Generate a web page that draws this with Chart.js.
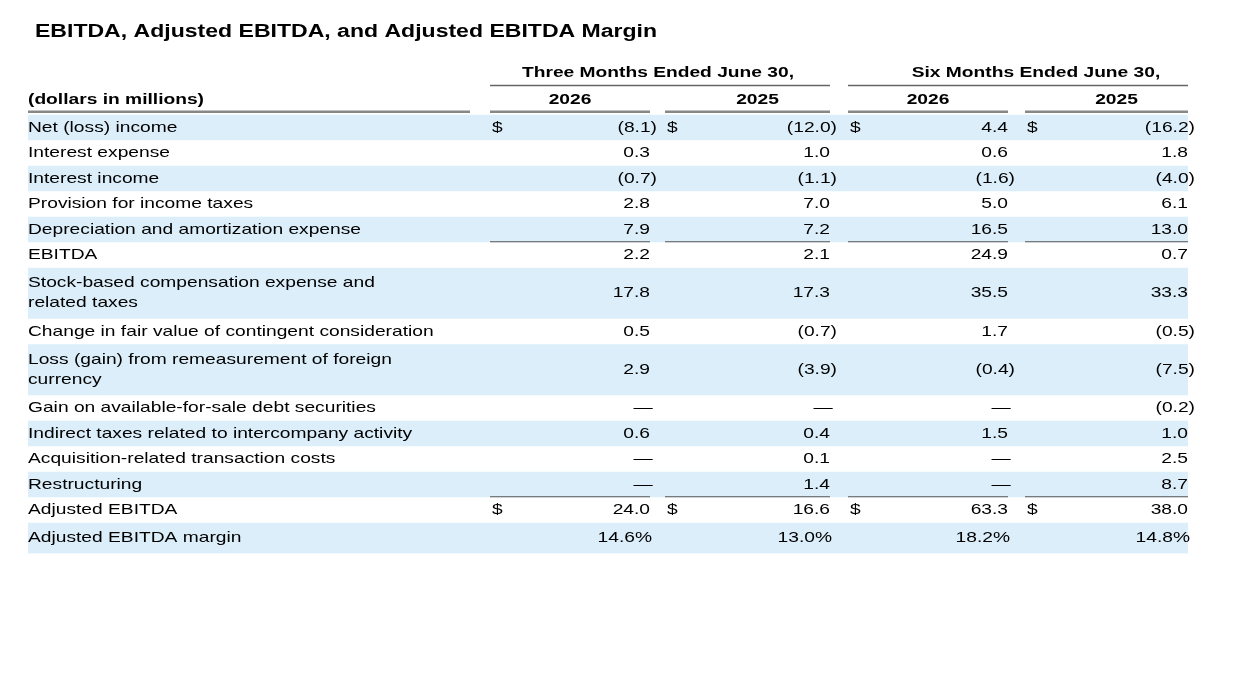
<!DOCTYPE html>
<html>
<head>
<meta charset="utf-8">
<script src="https://cdn.jsdelivr.net/npm/chart.js@4.4.1/dist/chart.umd.min.js"></script>
<style>
  html, body { margin: 0; padding: 0; background: #fff; }
  #wrap { position: relative; width: 1238px; height: 682px; }
</style>
</head>
<body>
<div id="wrap"><canvas id="tbl"></canvas></div>
<script>
// ---- table content ----
const title = 'EBITDA, Adjusted EBITDA, and Adjusted EBITDA Margin';
const groupHeaders = ['Three Months Ended June 30,', 'Six Months Ended June 30,'];
const yearHeaders = ['2026', '2025', '2026', '2025'];
const unitLabel = '(dollars in millions)';

const rowLabels = [
  ['Net (loss) income'],
  ['Interest expense'],
  ['Interest income'],
  ['Provision for income taxes'],
  ['Depreciation and amortization expense'],
  ['EBITDA'],
  ['Stock-based compensation expense and', 'related taxes'],
  ['Change in fair value of contingent consideration'],
  ['Loss (gain) from remeasurement of foreign', 'currency'],
  ['Gain on available-for-sale debt securities'],
  ['Indirect taxes related to intercompany activity'],
  ['Acquisition-related transaction costs'],
  ['Restructuring'],
  ['Adjusted EBITDA'],
  ['Adjusted EBITDA margin']
];
const q2026 = ['(8.1)', '0.3', '(0.7)', '2.8', '7.9', '2.2', '17.8', '0.5', '2.9', '—', '0.6', '—', '—', '24.0', '14.6%'];
const q2025 = ['(12.0)', '1.0', '(1.1)', '7.0', '7.2', '2.1', '17.3', '(0.7)', '(3.9)', '—', '0.4', '0.1', '1.4', '16.6', '13.0%'];
const s2026 = ['4.4', '0.6', '(1.6)', '5.0', '16.5', '24.9', '35.5', '1.7', '(0.4)', '—', '1.5', '—', '—', '63.3', '18.2%'];
const s2025 = ['(16.2)', '1.8', '(4.0)', '6.1', '13.0', '0.7', '33.3', '(0.5)', '(7.5)', '(0.2)', '1.0', '2.5', '8.7', '38.0', '14.8%'];
const dollarRows = [0, 13];
const columns = [q2026, q2025, s2026, s2025];

// ---- layout ----
const FONT = '"Liberation Sans", Arial, sans-serif';
const BLUE = '#dbeef9';
const STRETCH = 1.28; // reference text is horizontally stretched
const colSpans = [[490, 650], [665, 830], [848, 1008], [1025, 1188]];
const LEFT = 28, RIGHT = 1188;
const ROW_H = 25.5, TOP = 4.5; // in row units (y scale)

function txt(ctx, t, x, y, align) {
  ctx.save();
  ctx.translate(x, y);
  ctx.scale(STRETCH, 1);
  ctx.textAlign = align;
  ctx.fillText(t, 0, 0);
  ctx.restore();
}

const tablePlugin = {
  id: 'table',
  afterDraw(chart) {
    const ctx = chart.ctx;
    const x = chart.scales.x, y = chart.scales.y;
    const px = v => x.getPixelForValue(v);
    const py = v => y.getPixelForValue(v);
    ctx.save();
    ctx.textBaseline = 'middle';

    // title
    ctx.fillStyle = '#000';
    ctx.font = 'bold 18px ' + FONT;
    txt(ctx, title, px(35), py(1.25), 'left');

    // group headers
    ctx.font = 'bold 15px ' + FONT;
    txt(ctx, groupHeaders[0], px(658), py(2.85), 'center');
    txt(ctx, groupHeaders[1], px(1036), py(2.85), 'center');
    ctx.strokeStyle = '#666'; ctx.lineWidth = 1.5;
    [[490, 830], [848, 1188]].forEach(([a, b]) => {
      ctx.beginPath(); ctx.moveTo(px(a), py(3.35)); ctx.lineTo(px(b), py(3.35)); ctx.stroke();
    });
    yearHeaders.forEach((t, i) => {
      const [a, b] = colSpans[i];
      txt(ctx, t, px((a + b) / 2 + (i % 2 ? 10 : 0)), py(3.92), 'center');
    });
    txt(ctx, unitLabel, px(LEFT), py(3.92), 'left');
    ctx.strokeStyle = '#888'; ctx.lineWidth = 2.5;
    ctx.beginPath(); ctx.moveTo(px(LEFT), py(4.38)); ctx.lineTo(px(470), py(4.38)); ctx.stroke();
    colSpans.forEach(([a, b]) => {
      ctx.beginPath(); ctx.moveTo(px(a), py(4.38)); ctx.lineTo(px(b), py(4.38)); ctx.stroke();
    });

    // rows
    let cur = TOP;
    rowLabels.forEach((lab, r) => {
      const h = lab.length;
      const extra = r === rowLabels.length - 1 ? 0.2 : 0;
      const top = py(cur), bot = py(cur + h + extra), mid = (top + bot) / 2;
      if (r % 2 === 0) {
        ctx.fillStyle = BLUE;
        ctx.fillRect(px(LEFT), top, px(RIGHT) - px(LEFT), bot - top);
      }
      ctx.fillStyle = '#000';
      ctx.font = '15px ' + FONT;
      lab.forEach((l, k) => txt(ctx, l, px(LEFT), mid + (k - (h - 1) / 2) * 20, 'left'));

      columns.forEach((col, c) => {
        const [a, b] = colSpans[c];
        const v = col[r];
        if (dollarRows.includes(r)) txt(ctx, '$', px(a + 2), mid, 'left');
        if (v === '—') txt(ctx, v, px(b - 7), mid, 'center');
        else if (v.endsWith(')')) txt(ctx, v, px(b + 7), mid, 'right');
        else if (v.endsWith('%')) txt(ctx, v, px(b + 2), mid, 'right');
        else txt(ctx, v, px(b), mid, 'right');
      });

      // rules
      ctx.strokeStyle = '#555'; ctx.lineWidth = 1;
      if (r === 4 || r === 12) {
        colSpans.forEach(([a, b]) => {
          ctx.beginPath(); ctx.moveTo(px(a), bot - 0.5); ctx.lineTo(px(b), bot - 0.5); ctx.stroke();
        });
      }
      if (r === 13) {
        colSpans.forEach(([a, b]) => {
          [bot + 1, bot + 4].forEach(yy => {
            ctx.beginPath(); ctx.moveTo(px(a), yy); ctx.lineTo(px(b), yy); ctx.stroke();
          });
        });
      }
      cur += h;
    });
    ctx.restore();
  }
};

new Chart(document.getElementById('tbl'), {
  type: 'scatter',
  data: { datasets: [{ data: [], pointRadius: 0 }] },
  options: {
    responsive: true, maintainAspectRatio: false, animation: false,
    layout: { padding: 0 },
    plugins: { legend: { display: false }, tooltip: { enabled: false } },
    scales: {
      x: { type: 'linear', min: 0, max: 1238, display: false },
      y: { type: 'linear', min: 0, max: 682 / ROW_H, reverse: true, display: false }
    }
  },
  plugins: [tablePlugin]
});
</script>
</body>
</html>
